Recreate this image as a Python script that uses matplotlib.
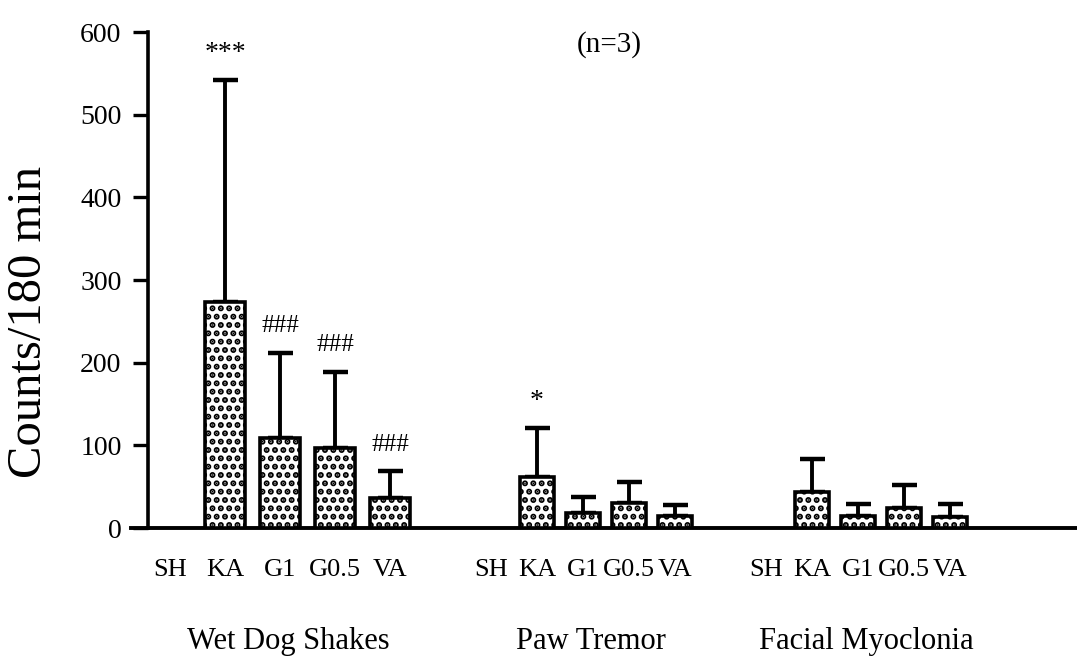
import matplotlib
matplotlib.use('Agg')
import matplotlib.pyplot as plt

plt.rcParams['font.family'] = ['Liberation Serif', 'DejaVu Serif']
plt.rcParams['hatch.linewidth'] = 3.0

# data
groups = ['Wet Dog Shakes', 'Paw Tremor', 'Facial Myoclonia']
categories = ['SH', 'KA', 'G1', 'G0.5', 'VA']

wds_mean = [0, 273, 109, 97, 36]
wds_err = [0, 269, 103, 92, 33]
wds_marks = ['', '***', '###', '###', '###']

paw_mean = [0, 62, 18, 30, 14]
paw_err = [0, 59, 19, 26, 14]
paw_marks = ['', '*', '', '', '']

fm_mean = [0, 44, 14, 24, 13]
fm_err = [0, 39, 15, 28, 16]
fm_marks = ['', '', '', '', '']

# layout of each group (x positions in pixel-like units)
group_start = [170, 491, 766]
group_step = [55, 46, 46]
bar_width = [40, 34, 34]

fig = plt.figure(figsize=(10.77, 6.68), dpi=100)
ax = fig.add_axes([131/1077, 140/668, 946/1077, 496/668])

all_means = [wds_mean, paw_mean, fm_mean]
all_errs = [wds_err, paw_err, fm_err]
all_marks = [wds_marks, paw_marks, fm_marks]

for g in range(len(groups)):
    xs = [group_start[g] + i*group_step[g] for i in range(len(categories))]
    m = all_means[g]
    e = all_errs[g]
    for i in range(len(categories)):
        if m[i] > 0:
            ax.errorbar(xs[i], m[i], yerr=[[0], [e[i]]], fmt='none', ecolor='black',
                        elinewidth=2.8, capsize=9, capthick=3.2, zorder=2)
            ax.bar(xs[i], m[i], width=bar_width[g], color='white', edgecolor='black',
                   linewidth=2.6, hatch='..', zorder=3)
        if all_marks[g][i]:
            fs = 20 if '*' in all_marks[g][i] else 18
            ax.text(xs[i], m[i] + e[i] + 32, all_marks[g][i], ha='center', va='center',
                    fontsize=fs)
        ax.text(xs[i], -51, categories[i], ha='center', va='center', fontsize=19)
    ax.text((xs[0] + xs[-1]) / 2 + 8, -137, groups[g], ha='center', va='center', fontsize=22)

ax.text(609, 585, '(n=3)', ha='center', va='center', fontsize=21)

ax.set_xlim(131, 1077)
ax.set_ylim(0, 600)
ax.set_yticks([0, 100, 200, 300, 400, 500, 600])
ax.set_xticks([])
ax.spines['top'].set_visible(False)
ax.spines['right'].set_visible(False)
ax.spines['left'].set_position(('data', 148))
ax.spines['left'].set_linewidth(2.6)
ax.spines['bottom'].set_linewidth(2.8)
ax.tick_params(axis='y', length=11, width=2.4, labelsize=20, pad=8)
ax.set_ylabel('Counts/180 min', fontsize=35)
ax.yaxis.set_label_coords(-80/946, 0.415)

fig.savefig('out.png', dpi=100)
